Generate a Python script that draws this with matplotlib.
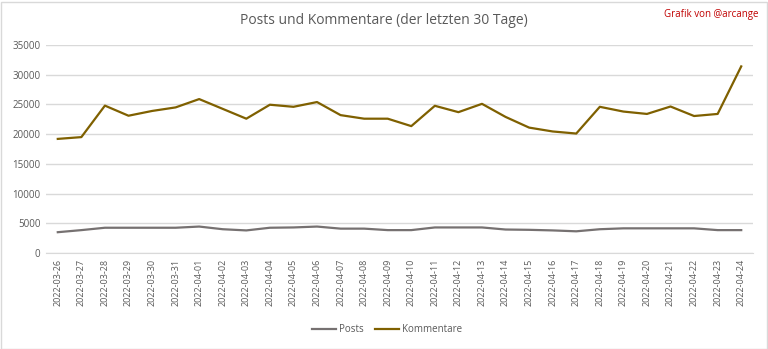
import matplotlib
matplotlib.use("Agg")
from matplotlib import pyplot as plt
from matplotlib.patches import Rectangle

# Daily values
dates = ["2022-03-26", "2022-03-27", "2022-03-28", "2022-03-29", "2022-03-30",
         "2022-03-31", "2022-04-01", "2022-04-02", "2022-04-03", "2022-04-04",
         "2022-04-05", "2022-04-06", "2022-04-07", "2022-04-08", "2022-04-09",
         "2022-04-10", "2022-04-11", "2022-04-12", "2022-04-13", "2022-04-14",
         "2022-04-15", "2022-04-16", "2022-04-17", "2022-04-18", "2022-04-19",
         "2022-04-20", "2022-04-21", "2022-04-22", "2022-04-23", "2022-04-24"]
posts = [3500, 3850, 4250, 4250, 4250, 4250, 4450, 4000, 3800, 4250,
         4300, 4450, 4100, 4100, 3850, 3850, 4300, 4300, 4300, 3950,
         3900, 3800, 3650, 4000, 4150, 4150, 4150, 4150, 3850, 3850]
kommentare = [19200, 19500, 24800, 23100, 23900, 24500, 25900, 24250, 22600, 24950,
              24600, 25400, 23200, 22600, 22600, 21350, 24770, 23700, 25100, 22900,
              21100, 20450, 20100, 24600, 23800, 23400, 24650, 23050, 23400, 31400]
yticks = [0, 5000, 10000, 15000, 20000, 25000, 30000, 35000]

plt.rcParams['font.family'] = ['Open Sans', 'DejaVu Sans']

fig = plt.figure(figsize=(7.68, 3.49), dpi=100)
ax = fig.add_axes([46 / 768, 1 - 253 / 349, 707 / 768, 208 / 349])

x = list(range(len(dates)))
ax.plot(x, posts, color="#767171", linewidth=1.6, label="Posts")
ax.plot(x, kommentare, color="#7F6000", linewidth=1.6, label="Kommentare")

ax.set_xlim(-0.5, len(dates) - 0.5)
ax.set_ylim(0, 35000)
ax.set_yticks(yticks)
ax.set_yticklabels([str(v) for v in yticks], fontsize=7, color="#595959")
ax.set_xticks(x)
ax.set_xticklabels(dates, rotation=90, fontsize=6.5, color="#595959")
ax.tick_params(length=0, pad=4)
ax.grid(axis="y", color="#D9D9D9", linewidth=1)
ax.set_axisbelow(True)
for side in ["top", "right", "left"]:
    ax.spines[side].set_visible(False)
ax.spines["bottom"].set_color("#D9D9D9")

fig.text(0.5, 1 - 20 / 349, "Posts und Kommentare (der letzten 30 Tage)",
         ha="center", va="center", fontsize=10, color="#595959")
fig.text(1 - 10 / 768, 1 - 14 / 349, "Grafik von @arcange",
         ha="right", va="center", fontsize=7, color="#C00000")

fig.legend(loc="center", bbox_to_anchor=(387 / 768, 1 - 330 / 349), ncol=2,
           frameon=False, fontsize=7, handlelength=2.5, handletextpad=0.3,
           columnspacing=1.2, labelcolor="#595959")

fig.patches.append(Rectangle((0.5 / 768, 0.5 / 349), 1 - 2 / 768, 1 - 2 / 349,
                             transform=fig.transFigure, fill=False,
                             edgecolor="#D9D9D9", linewidth=1))

fig.savefig("out.png", dpi=100)
